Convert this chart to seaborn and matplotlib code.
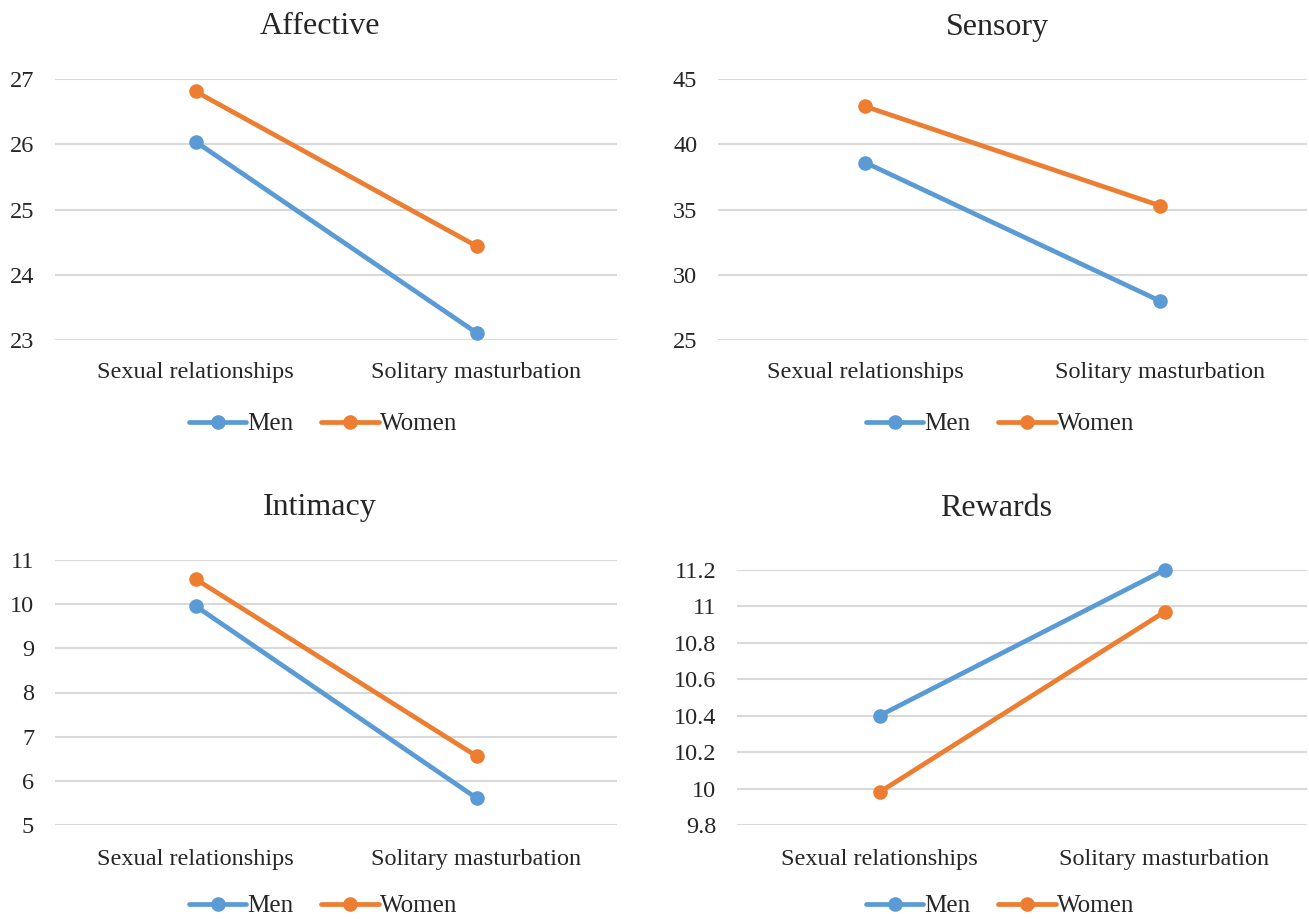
import matplotlib
matplotlib.use("Agg")
import matplotlib.pyplot as plt
import seaborn as sns
import pandas as pd

# Mean scores by context and sex
categories = ["Sexual relationships", "Solitary masturbation"]
groups = ["Men", "Women"]

affective_men = [26.04, 23.11]
affective_women = [26.81, 24.44]
sensory_men = [38.6, 28.0]
sensory_women = [42.9, 35.3]
intimacy_men = [9.96, 5.61]
intimacy_women = [10.57, 6.56]
rewards_men = [10.40, 11.20]
rewards_women = [9.98, 10.97]

titles = ["Affective", "Sensory", "Intimacy", "Rewards"]
y_limits = [(23, 27), (25, 45), (5, 11), (9.8, 11.2)]
y_ticks = [
    [23, 24, 25, 26, 27],
    [25, 30, 35, 40, 45],
    [5, 6, 7, 8, 9, 10, 11],
    [9.8, 10, 10.2, 10.4, 10.6, 10.8, 11, 11.2],
]
y_ticklabels = [
    ["23", "24", "25", "26", "27"],
    ["25", "30", "35", "40", "45"],
    ["5", "6", "7", "8", "9", "10", "11"],
    ["9.8", "10", "10.2", "10.4", "10.6", "10.8", "11", "11.2"],
]
series = [
    (affective_men, affective_women),
    (sensory_men, sensory_women),
    (intimacy_men, intimacy_women),
    (rewards_men, rewards_women),
]

BLUE = "#5B9BD5"
ORANGE = "#ED7D31"
TEXT = "#262626"
GRID = "#D9D9D9"

W, H = 1309, 919
DPI = 100

sns.set_theme(style="white")
plt.rcParams["font.family"] = ["Liberation Serif", "DejaVu Serif"]

fig = plt.figure(figsize=(W / DPI, H / DPI), dpi=DPI)
fig.patch.set_facecolor("white")

# plot-area boxes in pixels: left, top, right, bottom
boxes = [
    (55, 79, 617, 340),
    (718, 79, 1307, 340),
    (55, 560, 617, 825),
    (737, 570, 1307, 825),
]
title_pos = [(320, 27), (997, 27), (320, 508), (996, 508)]
legend_pos = [(323, 424), (1000, 424), (323, 906), (1000, 906)]
xlabel_pad = [16, 16, 17, 17]

for i, (men, women) in enumerate(series):
    l, t, r, b = boxes[i]
    ax = fig.add_axes([l / W, 1 - b / H, (r - l) / W, (b - t) / H])
    df = pd.DataFrame({
        "context": categories * 2,
        "score": list(men) + list(women),
        "group": [groups[0]] * 2 + [groups[1]] * 2,
    })
    sns.lineplot(
        data=df, x="context", y="score", hue="group", hue_order=groups,
        palette=[BLUE, ORANGE], marker="o", markersize=10.5,
        markeredgewidth=0, linewidth=3.4, sort=False, legend=False, ax=ax,
    )
    for ln in ax.lines:
        ln.set_clip_on(False)
    ax.set_xlim(-0.5, 1.5)
    ax.set_ylim(*y_limits[i])
    ax.set_yticks(y_ticks[i])
    ax.set_yticklabels(y_ticklabels[i])
    ax.set_xlabel("")
    ax.set_ylabel("")
    ax.yaxis.grid(True, color=GRID, linewidth=1.5)
    ax.xaxis.grid(False)
    ax.set_axisbelow(True)
    for s in ax.spines.values():
        s.set_visible(False)
    ax.tick_params(axis="y", length=0, pad=15, labelsize=17.5, labelcolor=TEXT)
    ax.tick_params(axis="x", length=0, pad=xlabel_pad[i], labelsize=17.5,
                   labelcolor=TEXT)
    ax.set_facecolor("none")

    fig.text(title_pos[i][0] / W, 1 - title_pos[i][1] / H, titles[i],
             ha="center", va="center", fontsize=23, color=TEXT)

    handles = ax.lines[:2]
    ax.legend(
        handles, groups, loc="center",
        bbox_to_anchor=(legend_pos[i][0] / W, 1 - legend_pos[i][1] / H),
        bbox_transform=fig.transFigure, ncol=2, frameon=False,
        fontsize=18, handlelength=2.3, handletextpad=0.05,
        columnspacing=1.1, numpoints=1, labelcolor=TEXT,
    )

fig.savefig("out.png", dpi=DPI, facecolor="white")
